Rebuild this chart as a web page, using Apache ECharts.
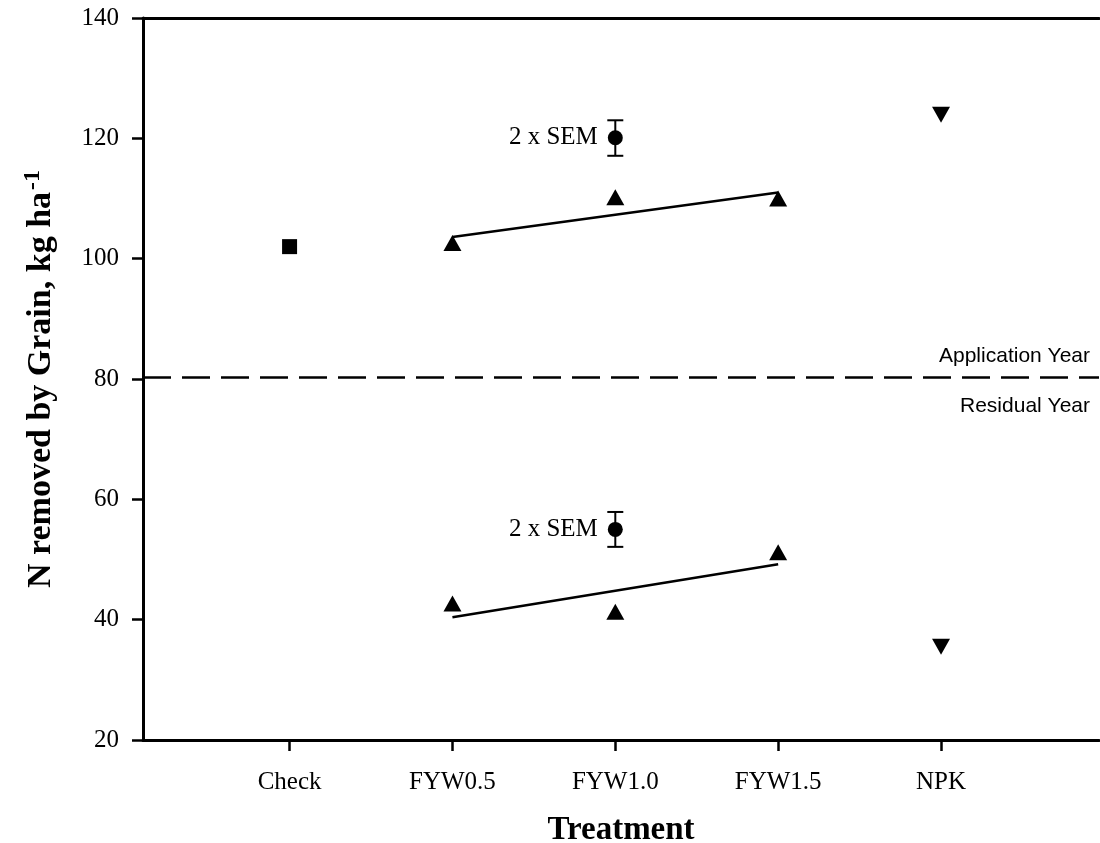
<!DOCTYPE html>
<html>
<head>
<meta charset="utf-8">
<script src="https://cdn.jsdelivr.net/npm/echarts@6/dist/echarts.min.js"></script>
<style>
  html, body { margin: 0; padding: 0; background: #fff; }
  #chart { width: 1100px; height: 843px; }
</style>
</head>
<body>
<div id="chart"></div>
<script>
// treatments sit at x = 1..5
const treatments = ['Check', 'FYW0.5', 'FYW1.0', 'FYW1.5', 'NPK']
const treatmentPos = [1, 2, 3, 4, 5]

// check plot (square)
const checkValue = [102.0]
// farmyard waste, application year / residual year (triangles)
const appFyw = [102.6, 110.2, 110.0]
const resFyw = [42.7, 41.3, 51.2]
// NPK (down triangles)
const appNpk = [123.9]
const resNpk = [35.5]
// fitted lines FYW0.5 -> FYW1.5
const appFit = [103.6, 111.0]
const resFit = [40.4, 49.2]
// 2 x SEM markers (FYW1.0 position)
const semMean = [120.1, 55.0]
const semLow = [117.1, 52.1]
const semHigh = [123.0, 57.9]
// divider between years
const dividerValue = 80.3

const serif = 'Liberation Serif, Times New Roman, serif'
const sans = 'Liberation Sans, Arial, sans-serif'

const chart = echarts.init(document.getElementById('chart'))

const fywPos = treatmentPos.slice(1, 4)
const fitPos = [treatmentPos[1], treatmentPos[3]]
const semPos = treatmentPos[2]
const black = { color: '#000', opacity: 1 }

chart.setOption({
  animation: false,
  backgroundColor: '#fff',
  grid: { left: 143, right: 1, top: 18, bottom: 103, containLabel: false, outerBoundsMode: 'none' },
  xAxis: [
    {
      type: 'value',
      min: 0.1,
      max: 5.97,
      position: 'bottom',
      name: 'Treatment',
      nameLocation: 'middle',
      nameGap: 74,
      nameTextStyle: { fontFamily: serif, fontWeight: 'bold', fontSize: 33, color: '#000' },
      splitLine: { show: false },
      axisLine: { lineStyle: { color: '#000', width: 3 } },
      axisTick: { customValues: treatmentPos, length: 11, lineStyle: { color: '#000', width: 2.5 } },
      axisLabel: {
        customValues: treatmentPos,
        margin: 30,
        fontFamily: serif,
        fontSize: 25,
        color: '#000',
        formatter: v => treatments[Math.round(v) - 1] || ''
      }
    },
    {
      type: 'value',
      min: 0.1,
      max: 5.97,
      position: 'top',
      splitLine: { show: false },
      axisLine: { lineStyle: { color: '#000', width: 3 } },
      axisTick: { show: false },
      axisLabel: { show: false }
    }
  ],
  yAxis: {
    type: 'value',
    min: 20,
    max: 140,
    interval: 20,
    name: '{a|N removed by Grain, kg ha}{s|-1}',
    nameLocation: 'middle',
    nameRotate: 90,
    nameGap: 82,
    nameTextStyle: {
      color: '#000',
      rich: {
        a: { fontFamily: serif, fontWeight: 'bold', fontSize: 34, color: '#000' },
        s: { fontFamily: serif, fontWeight: 'bold', fontSize: 24, color: '#000', verticalAlign: 'top', padding: [0, 0, 16, 2] }
      }
    },
    splitLine: { show: false },
    axisLine: { lineStyle: { color: '#000', width: 3 } },
    axisTick: { length: 11, lineStyle: { color: '#000', width: 2.5 } },
    axisLabel: { margin: 24, fontFamily: serif, fontSize: 25, color: '#000' }
  },
  graphic: [
    {
      type: 'text',
      right: 10,
      top: 346,
      style: { text: 'Application Year', font: '21px ' + sans, fill: '#000', align: 'right' }
    },
    {
      type: 'text',
      right: 10,
      top: 396,
      style: { text: 'Residual Year', font: '21px ' + sans, fill: '#000', align: 'right' }
    }
  ],
  series: [
    {
      name: 'divider',
      type: 'line',
      data: [],
      markLine: {
        silent: true,
        symbol: 'none',
        label: { show: false },
        lineStyle: { color: '#000', width: 2.5, type: [28, 11], opacity: 1 },
        data: [{ yAxis: dividerValue }]
      }
    },
    {
      name: 'Application fit',
      type: 'line',
      showSymbol: false,
      lineStyle: { color: '#000', width: 2.5 },
      data: fitPos.map((x, i) => [x, appFit[i]])
    },
    {
      name: 'Residual fit',
      type: 'line',
      showSymbol: false,
      lineStyle: { color: '#000', width: 2.5 },
      data: fitPos.map((x, i) => [x, resFit[i]])
    },
    {
      name: 'Check',
      type: 'scatter',
      symbol: 'rect',
      symbolSize: 15,
      itemStyle: black,
      data: checkValue.map(v => [treatmentPos[0], v])
    },
    {
      name: 'FYW application',
      type: 'scatter',
      symbol: 'triangle',
      symbolSize: [18, 16],
      itemStyle: black,
      data: fywPos.map((x, i) => [x, appFyw[i]])
    },
    {
      name: 'FYW residual',
      type: 'scatter',
      symbol: 'triangle',
      symbolSize: [18, 16],
      itemStyle: black,
      data: fywPos.map((x, i) => [x, resFyw[i]])
    },
    {
      name: 'NPK',
      type: 'scatter',
      symbol: 'triangle',
      symbolRotate: 180,
      symbolSize: [18, 16],
      itemStyle: black,
      data: [[treatmentPos[4], appNpk[0]], [treatmentPos[4], resNpk[0]]]
    },
    {
      name: 'SEM bars',
      type: 'custom',
      data: semMean.map((v, i) => [semPos, semLow[i], semHigh[i]]),
      renderItem(params, api) {
        const x = api.value(0)
        const lo = api.coord([x, api.value(1)])
        const hi = api.coord([x, api.value(2)])
        const w = 8
        const st = { stroke: '#000', lineWidth: 2 }
        return {
          type: 'group',
          children: [
            { type: 'line', shape: { x1: lo[0], y1: lo[1], x2: hi[0], y2: hi[1] }, style: st },
            { type: 'line', shape: { x1: lo[0] - w, y1: lo[1], x2: lo[0] + w, y2: lo[1] }, style: st },
            { type: 'line', shape: { x1: hi[0] - w, y1: hi[1], x2: hi[0] + w, y2: hi[1] }, style: st }
          ]
        }
      }
    },
    {
      name: 'SEM',
      type: 'scatter',
      symbol: 'circle',
      symbolSize: 15,
      itemStyle: black,
      label: {
        show: true,
        position: 'left',
        distance: 10,
        formatter: '2 x SEM',
        fontFamily: serif,
        fontSize: 25,
        color: '#000'
      },
      data: semMean.map(v => [semPos, v])
    }
  ]
})
</script>
</body>
</html>
